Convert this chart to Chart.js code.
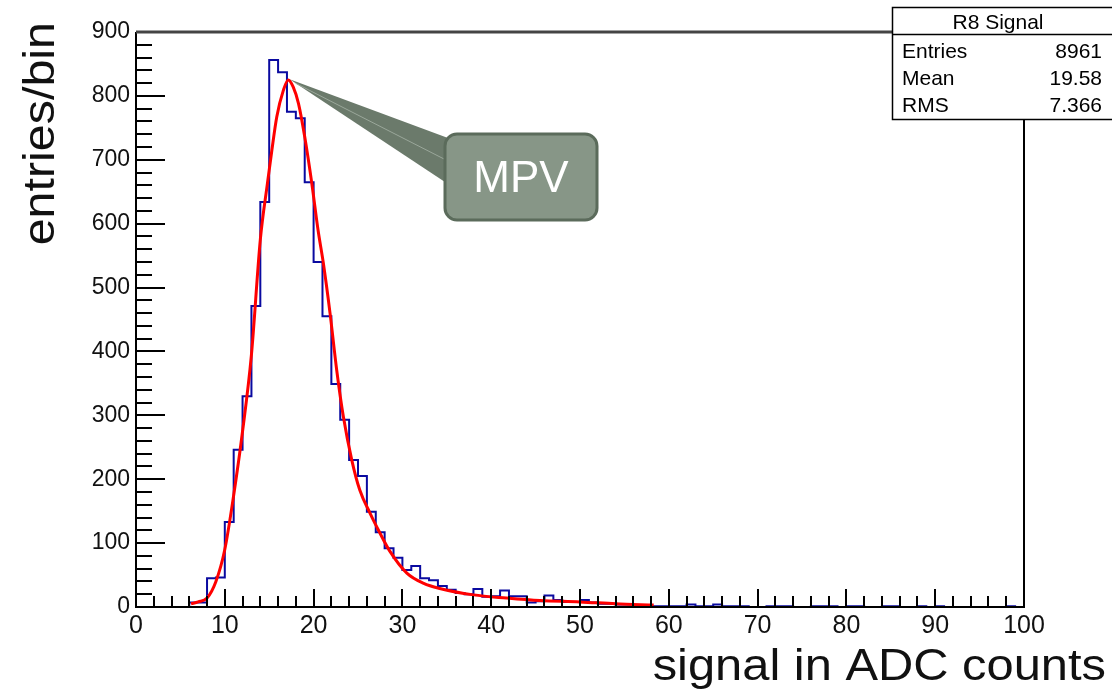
<!DOCTYPE html>
<html>
<head>
<meta charset="utf-8">
<script src="https://cdn.jsdelivr.net/npm/chart.js@4.4.1/dist/chart.umd.min.js"></script>
<style>
html, body { margin: 0; padding: 0; background: #fff; }
#wrap { width: 1112px; height: 690px; }
</style>
</head>
<body>
<div id="wrap"><canvas id="signalChart" width="1112" height="690"></canvas></div>
<script>
var FONT = '"Liberation Sans", Arial, Helvetica, sans-serif';

// entries per bin, bins of width 1 from 0 to 100
var binCounts = [
    0, 0, 0, 0, 0, 0, 7, 7, 45, 46,
    133, 246, 330, 471, 634, 856, 837, 775, 765, 665,
    540, 455, 349, 293, 230, 205, 149, 117, 92, 77,
    58, 64, 45, 42, 33, 27, 22, 20, 28, 16,
    17, 26, 17, 17, 7, 9, 18, 11, 8, 8,
    11, 7, 5, 5, 4, 4, 2, 2, 1, 1,
    1, 1, 4, 1, 1, 4, 1, 1, 1, 0,
    0, 1, 1, 1, 0, 0, 1, 1, 1, 0,
    1, 1, 0, 0, 1, 1, 0, 0, 1, 0,
    1, 0, 0, 0, 0, 0, 0, 0, 1, 0
];

// landau fit curve
var fitX = [6.2, 7, 8, 9, 10, 11, 12, 13, 14, 14.8, 15.3, 15.85, 16.6, 17.15, 17.7, 18.3, 19, 19.8, 20.5, 21.1, 21.85, 22.6, 23.35, 24.3, 25.2, 26.35, 27.5, 28.6, 30.5, 32.4, 34.2, 38, 41.7, 45.5, 50, 54, 58.3];
var fitY = [5, 8, 14, 40, 90, 175, 275, 395, 575, 663, 715, 767, 809, 825, 814, 788, 736, 663, 590, 538, 460, 371, 298, 230, 183, 147, 115, 87, 53, 37, 29, 19, 14, 10, 8, 5, 3];

var statsTitle = 'R8 Signal';
var statsLabels = ['Entries', 'Mean', 'RMS'];
var statsValues = ['8961', '19.58', '7.366'];

var mpvLabel = 'MPV';
var mpvPoint = { x: 17.3, y: 826 };

var histPoints = binCounts.map(function(c, i) { return { x: i, y: c }; });
histPoints.push({ x: binCounts.length, y: binCounts[binCounts.length - 1] });

var fitPoints = fitX.map(function(x, i) { return { x: x, y: fitY[i] }; });

// text a bit wider than the font, like the stretched original
function wideText(ctx, text, x, y, sx) {
    ctx.save();
    ctx.translate(x, y);
    ctx.scale(sx, 1);
    ctx.fillText(text, 0, 0);
    ctx.restore();
}

// ROOT style frame, inner ticks, titles, stats box and the MPV callout
var rootStyle = {
    id: 'rootStyle',
    afterDatasetsDraw: function(chart) {
        var ctx = chart.ctx;
        var a = chart.chartArea;
        var xs = chart.scales.x, ys = chart.scales.y;
        ctx.save();
        ctx.strokeStyle = '#000';
        ctx.lineWidth = 2;
        ctx.beginPath();
        for (var v = 0; v <= 900; v += 20) {
            var py = Math.round(ys.getPixelForValue(v));
            var len = v % 100 === 0 ? 29 : 16;
            ctx.moveTo(a.left, py);
            ctx.lineTo(a.left + len, py);
        }
        for (var u = 0; u <= 100; u += 2) {
            var px = Math.round(xs.getPixelForValue(u));
            var l2 = u % 10 === 0 ? 18 : 11;
            ctx.moveTo(px, a.bottom);
            ctx.lineTo(px, a.bottom - l2);
        }
        ctx.stroke();
        ctx.beginPath();
        ctx.moveTo(a.left, a.top);
        ctx.lineTo(a.left, a.bottom);
        ctx.lineTo(a.right, a.bottom);
        ctx.lineTo(a.right, a.top);
        ctx.stroke();
        ctx.strokeStyle = '#444';
        ctx.lineWidth = 3;
        ctx.beginPath();
        ctx.moveTo(a.left, a.top);
        ctx.lineTo(a.right, a.top);
        ctx.stroke();
        ctx.restore();
    },
    afterDraw: function(chart) {
        var ctx = chart.ctx;
        var xs = chart.scales.x, ys = chart.scales.y;
        ctx.save();

        // axis titles
        ctx.fillStyle = '#111';
        ctx.font = '44px ' + FONT;
        ctx.textAlign = 'right';
        ctx.textBaseline = 'alphabetic';
        wideText(ctx, 'signal in ADC counts', 1106, 680, 1.11);
        ctx.save();
        ctx.translate(54, 22);
        ctx.rotate(-Math.PI / 2);
        wideText(ctx, 'entries/bin', 0, 0, 1.1);
        ctx.restore();

        // stats box
        ctx.fillStyle = '#fff';
        ctx.strokeStyle = '#000';
        ctx.lineWidth = 1.5;
        ctx.fillRect(892, 7, 230, 112);
        ctx.strokeRect(892.5, 7.5, 230, 112);
        ctx.beginPath();
        ctx.moveTo(892, 34.5);
        ctx.lineTo(1112, 34.5);
        ctx.stroke();
        ctx.fillStyle = '#000';
        ctx.font = '21px ' + FONT;
        ctx.textAlign = 'center';
        ctx.fillText(statsTitle, 998, 29);
        for (var i = 0; i < statsLabels.length; i++) {
            var by = 58 + i * 27;
            ctx.textAlign = 'left';
            ctx.fillText(statsLabels[i], 902, by);
            ctx.textAlign = 'right';
            ctx.fillText(statsValues[i], 1102, by);
        }

        // MPV callout
        var ax = xs.getPixelForValue(mpvPoint.x);
        var ay = ys.getPixelForValue(mpvPoint.y);
        ctx.fillStyle = '#6b7a6b';
        ctx.beginPath();
        ctx.moveTo(ax, ay);
        ctx.lineTo(448, 138);
        ctx.lineTo(448, 184);
        ctx.closePath();
        ctx.fill();
        ctx.strokeStyle = '#9aa79a';
        ctx.lineWidth = 1;
        ctx.beginPath();
        ctx.moveTo(ax + 6, ay + 4);
        ctx.lineTo(446, 160);
        ctx.stroke();

        ctx.fillStyle = '#879687';
        ctx.strokeStyle = '#5b6b5b';
        ctx.lineWidth = 3;
        ctx.beginPath();
        ctx.roundRect(445, 134, 152, 86, 12);
        ctx.fill();
        ctx.stroke();
        ctx.fillStyle = '#fff';
        ctx.font = '44px ' + FONT;
        ctx.textAlign = 'center';
        ctx.textBaseline = 'middle';
        ctx.fillText(mpvLabel, 521, 180);
        ctx.restore();
    }
};

var signalCtx = document.getElementById('signalChart').getContext('2d');

var signalChart = new Chart(signalCtx, {
    type: 'line',
    data: {
        datasets: [{
            label: 'fit',
            data: fitPoints,
            borderColor: '#ff0000',
            borderWidth: 3,
            pointRadius: 0,
            fill: false,
            cubicInterpolationMode: 'monotone'
        }, {
            label: statsTitle,
            data: histPoints,
            borderColor: '#0a0aa0',
            borderWidth: 2,
            pointRadius: 0,
            fill: false,
            stepped: 'before'
        }]
    },
    options: {
        responsive: false,
        animation: false,
        layout: {
            padding: { top: 32, right: 88, left: 0, bottom: 0 }
        },
        plugins: {
            legend: { display: false },
            tooltip: { enabled: false }
        },
        scales: {
            x: {
                type: 'linear',
                min: 0,
                max: 100,
                grid: { display: false, drawTicks: false },
                border: { display: false },
                ticks: {
                    stepSize: 10,
                    color: '#111',
                    padding: 4,
                    maxRotation: 0,
                    font: { family: FONT, size: 25 }
                },
                afterFit: function(scale) { scale.height = 83; }
            },
            y: {
                type: 'linear',
                min: 0,
                max: 900,
                grid: { display: false, drawTicks: false },
                border: { display: false },
                ticks: {
                    stepSize: 100,
                    color: '#111',
                    padding: 6,
                    font: { family: FONT, size: 23 }
                },
                afterFit: function(scale) { scale.width = 136; }
            }
        }
    },
    plugins: [rootStyle]
});
</script>
</body>
</html>
